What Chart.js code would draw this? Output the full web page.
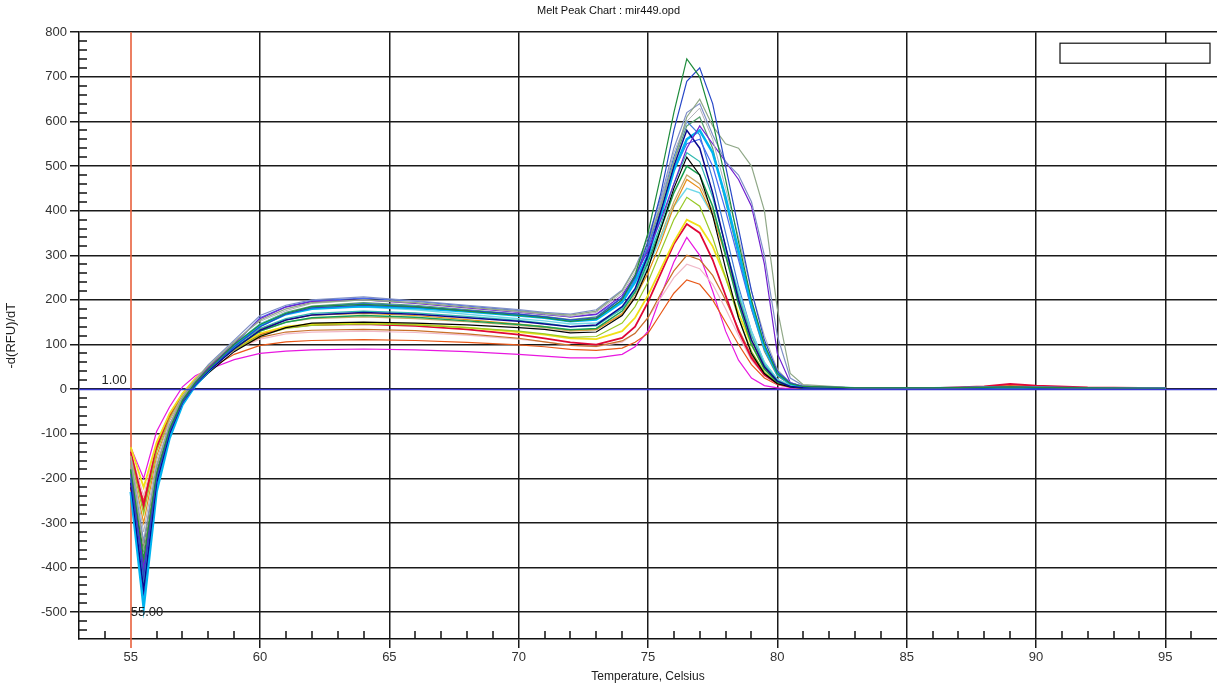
<!DOCTYPE html>
<html>
<head>
<meta charset="utf-8">
<script src="https://cdn.jsdelivr.net/npm/chart.js@4/dist/chart.umd.min.js"></script>
<style>
  body { margin: 0; background: #fff; }
</style>
</head>
<body>
<canvas id="myChart" width="1217" height="686"></canvas>
<script>
// temperature steps (Celsius)
const temps = [55, 55.5, 56, 56.5, 57, 57.5, 58, 59, 60, 61, 62, 64, 66, 68, 70, 71, 72, 73, 74, 74.5,
  75, 75.5, 76, 76.5, 77, 77.5, 78, 78.5, 79, 79.5, 80, 80.5, 81, 83, 86, 88, 89, 90, 92, 95];

const xTicks = [55, 60, 65, 70, 75, 80, 85, 90, 95];
const yTicks = [-500, -400, -300, -200, -100, 0, 100, 200, 300, 400, 500, 600, 700, 800];

// -d(RFU)/dT per well
const wellA = [-180,-380,-190,-90,-25,15,45,100,145,170,185,190,185,175,165,160,152,158,200,255,350,480,620,740,700,600,470,330,200,100,35,12,6,3,3,4,5,4,3,2];
const wellB = [-200,-420,-200,-95,-30,10,42,95,140,168,182,188,184,176,168,162,155,160,205,250,330,440,580,690,720,640,500,360,220,110,40,14,6,3,3,4,5,4,3,2];
const wellC = [-170,-360,-180,-85,-20,20,52,105,155,180,194,200,194,184,175,170,166,175,220,270,330,410,510,610,650,590,550,540,500,400,180,35,10,3,3,4,5,4,3,2];
const wellD = [-160,-340,-175,-80,-20,18,55,110,165,188,200,207,198,188,178,172,168,178,222,272,340,430,540,620,640,570,510,480,420,300,120,25,8,3,3,4,5,4,3,2];
const wellE = [-150,-320,-160,-70,-15,22,55,108,152,176,192,200,194,184,173,168,163,172,215,262,330,420,530,600,630,560,450,340,220,120,45,15,6,3,3,4,5,4,3,2];
const wellF = [-190,-400,-195,-90,-25,15,48,102,158,184,196,200,192,182,172,167,162,168,210,255,310,380,460,540,590,550,510,470,410,280,80,15,6,3,3,4,5,4,3,2];
const wellG = [-210,-450,-210,-100,-30,10,40,90,132,155,166,172,168,160,152,146,140,144,185,225,300,400,500,580,540,440,320,200,110,50,18,6,3,2,2,3,4,3,2,2];
const wellH = [-230,-490,-230,-110,-35,8,40,95,142,168,180,186,182,174,165,160,152,156,195,240,300,390,490,560,580,530,430,310,190,95,35,12,5,2,2,3,4,3,2,2];
const wellI = [-200,-430,-205,-95,-28,12,45,96,136,158,170,175,171,163,154,148,140,142,180,222,290,370,460,530,510,430,320,210,120,55,20,7,3,2,2,3,4,3,2,2];
const wellJ = [-220,-360,-180,-90,-28,8,36,84,118,138,148,150,148,144,138,134,126,128,165,205,270,360,450,520,480,390,270,160,80,35,12,5,2,2,2,3,4,3,2,2];
const wellK = [-180,-400,-190,-88,-24,14,44,92,130,150,160,165,161,153,145,140,133,136,175,218,285,360,440,500,480,410,300,190,100,45,15,6,3,2,2,3,4,3,2,2];
const wellL = [-160,-300,-150,-70,-18,20,50,98,135,155,166,170,165,156,146,140,132,134,168,205,260,330,410,470,450,390,300,200,110,50,18,7,3,2,2,3,4,3,2,2];
const wellM = [-190,-440,-210,-98,-30,12,45,100,146,170,182,184,178,168,158,153,146,148,180,218,275,340,410,450,440,390,310,220,130,60,22,8,3,2,2,3,4,3,2,2];
const wellN = [-150,-280,-140,-65,-15,20,46,88,120,136,143,146,144,138,130,124,116,118,148,185,240,310,380,430,410,340,250,160,85,38,14,5,2,2,2,3,4,3,2,2];
const wellO = [-130,-220,-120,-55,-10,24,50,92,125,140,146,148,145,138,128,122,114,112,130,160,210,270,330,380,365,320,250,170,100,45,16,6,3,2,2,3,4,3,2,2];
const wellP = [-140,-260,-130,-60,-12,22,48,90,122,138,144,146,142,134,122,114,105,100,115,140,195,260,325,370,350,290,210,130,70,32,12,5,2,2,2,6,12,8,4,2];
const wellQ = [-150,-270,-135,-62,-12,22,48,88,116,128,132,134,131,124,114,106,98,96,108,125,160,215,265,300,290,255,200,135,75,35,13,5,3,2,2,5,10,7,3,2];
const wellR = [-140,-240,-120,-55,-10,24,50,88,112,124,128,130,127,121,112,106,98,95,105,125,160,205,250,280,270,235,180,120,65,30,11,4,2,2,2,3,4,3,2,2];
const wellS = [-160,-250,-125,-58,-10,22,44,78,98,106,109,111,109,105,99,95,89,87,92,105,125,170,215,245,235,200,150,100,55,25,10,4,3,2,2,4,8,5,3,2];
const wellT = [-130,-200,-95,-40,5,30,44,66,80,85,88,90,88,84,78,74,70,70,78,95,130,210,285,340,300,220,130,65,25,8,3,1,1,1,1,2,3,2,2,1];
const wellU = [-200,-470,-220,-105,-32,10,44,100,160,185,198,204,197,186,176,170,162,167,205,250,315,400,490,550,560,500,400,290,180,90,32,11,4,2,2,3,4,3,2,2];
const wellV = [-170,-350,-170,-80,-22,16,46,94,130,150,158,162,158,151,143,138,130,133,170,212,275,345,420,480,460,400,310,210,120,55,20,7,3,2,2,3,4,3,2,2];
const wellW = [-190,-410,-200,-92,-26,12,44,96,144,170,184,192,186,176,166,160,152,158,200,245,320,420,520,600,570,470,350,230,130,60,22,8,3,2,2,3,4,3,2,2];
const wellX = [-180,-390,-185,-88,-24,14,46,100,146,172,186,194,188,178,168,163,156,162,205,250,320,410,510,590,610,540,420,300,180,85,30,10,4,2,2,3,4,3,2,2];

const wells = [
  [wellA, "#1e8c3c", 1.2], [wellB, "#2848c8", 1.2], [wellC, "#90a888", 1.2], [wellD, "#8090c8", 1.2],
  [wellE, "#b0b0b8", 1], [wellF, "#7020d0", 1.2], [wellG, "#0a0a90", 1.5], [wellH, "#00b4f0", 2.5],
  [wellI, "#30b8b0", 1.2], [wellJ, "#000000", 1.2], [wellK, "#18a050", 1.5], [wellL, "#e89018", 1.2],
  [wellM, "#70d8e8", 1.5], [wellN, "#98c828", 1.2], [wellO, "#f0e018", 1.8], [wellP, "#e00838", 1.8],
  [wellQ, "#c87028", 1.2], [wellR, "#f0b8c8", 1.2], [wellS, "#e85818", 1.2], [wellT, "#e818e0", 1.2],
  [wellU, "#4868f0", 1.2], [wellV, "#c8a868", 1.2], [wellW, "#3c78d8", 1.2], [wellX, "#5aa070", 1.2]
];

const datasets = wells.map(([vals, color, w]) => ({
  data: temps.map((t, i) => ({ x: t, y: vals[i] })),
  borderColor: color,
  borderWidth: w,
  pointRadius: 0,
  fill: false,
  tension: 0
}));

const fontFam = "'Liberation Sans', Arial, sans-serif";

// minor ticks, red threshold line at 55, blue baseline, labels and empty legend box
const extras = {
  id: "extras",
  beforeDatasetsDraw(chart) {
    const { ctx, chartArea: a, scales: { x, y } } = chart;
    ctx.save();
    ctx.strokeStyle = "#111";
    ctx.lineWidth = 1.5;
    ctx.beginPath();
    for (let v = 54; v <= 96; v++) {
      if (v % 5 === 0) continue;
      const px = Math.round(x.getPixelForValue(v));
      ctx.moveTo(px, a.bottom);
      ctx.lineTo(px, a.bottom - 8);
    }
    for (let v = -540; v <= 780; v += 20) {
      if (v % 100 === 0) continue;
      const py = Math.round(y.getPixelForValue(v));
      ctx.moveTo(a.left, py);
      ctx.lineTo(a.left + 8, py);
    }
    ctx.stroke();

    const rx = Math.round(x.getPixelForValue(55));
    ctx.strokeStyle = "#e8603c";
    ctx.lineWidth = 1.6;
    ctx.beginPath();
    ctx.moveTo(rx, a.top);
    ctx.lineTo(rx, a.bottom + 9);
    ctx.stroke();
    ctx.restore();
  },
  afterDatasetsDraw(chart) {
    const { ctx, chartArea: a, scales: { x, y } } = chart;
    ctx.save();
    const zy = Math.round(y.getPixelForValue(0)) + 0.5;
    ctx.strokeStyle = "#3838d0";
    ctx.lineWidth = 1.5;
    ctx.beginPath();
    ctx.moveTo(a.left, zy);
    ctx.lineTo(a.right, zy);
    ctx.stroke();

    ctx.fillStyle = "#222";
    ctx.font = "13px " + fontFam;
    ctx.textBaseline = "middle";
    ctx.textAlign = "right";
    ctx.fillText("1.00", x.getPixelForValue(55) - 4, zy - 9);
    ctx.textAlign = "left";
    ctx.fillText("55.00", x.getPixelForValue(55), y.getPixelForValue(-500));

    ctx.fillStyle = "#fff";
    ctx.strokeStyle = "#111";
    ctx.lineWidth = 1.2;
    ctx.fillRect(a.right - 157, a.top + 11, 150, 20);
    ctx.strokeRect(a.right - 157, a.top + 11, 150, 20);
    ctx.restore();
  }
};

const ctx = document.querySelector("#myChart").getContext("2d");
const config = {
  type: "line",
  data: { datasets },
  options: {
    responsive: false,
    animation: false,
    layout: { padding: { left: 0, right: 0, top: 0, bottom: 0 } },
    plugins: {
      legend: { display: false },
      tooltip: { enabled: false },
      title: {
        display: true,
        text: "Melt Peak Chart : mir449.opd",
        color: "#111",
        font: { family: fontFam, size: 11, weight: "normal" },
        padding: { top: 4, bottom: 15 }
      }
    },
    scales: {
      x: {
        type: "linear",
        min: 53,
        max: 97,
        afterBuildTicks: (s) => { s.ticks = xTicks.map((v) => ({ value: v })); },
        afterFit: (s) => { s.height = 47; },
        ticks: { color: "#333", padding: 2, font: { family: fontFam, size: 13 }, maxRotation: 0 },
        grid: {
          color: (c) => (c.tick && c.tick.value === 55 ? "rgba(0,0,0,0)" : "#1a1a1a"),
          lineWidth: 1.5,
          tickLength: 9
        },
        border: { color: "#111", width: 1.5 },
        title: {
          display: true,
          text: "Temperature, Celsius",
          color: "#222",
          font: { family: fontFam, size: 12 },
          padding: { top: 0, bottom: 2 }
        }
      },
      y: {
        type: "linear",
        min: -560,
        max: 800,
        afterBuildTicks: (s) => { s.ticks = yTicks.map((v) => ({ value: v })); },
        afterFit: (s) => { s.width = 79; },
        ticks: { color: "#333", padding: 3, font: { family: fontFam, size: 13 } },
        grid: { color: "#1a1a1a", lineWidth: 1.5, tickLength: 9 },
        border: { color: "#111", width: 1.5 },
        title: {
          display: true,
          text: "-d(RFU)/dT",
          color: "#222",
          font: { family: fontFam, size: 13 },
          padding: { top: 4, bottom: 0 }
        }
      }
    }
  },
  plugins: [extras]
};

const myChart = new Chart(ctx, config);
</script>
</body>
</html>
